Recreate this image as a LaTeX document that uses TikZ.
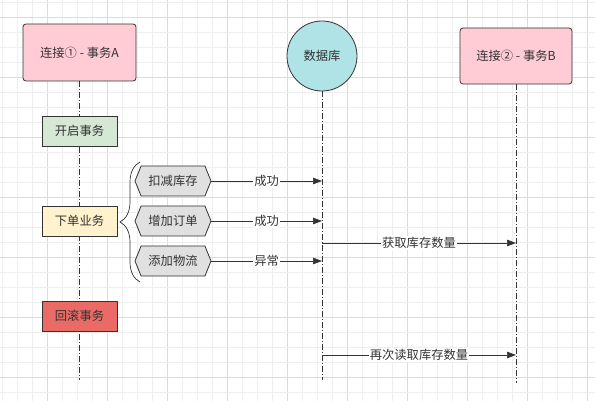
\documentclass[tikz,border=0pt]{standalone}
\usepackage{fontspec}
\setmainfont{Noto Sans CJK SC}
\usetikzlibrary{arrows.meta,shapes.symbols,decorations.pathreplacing,backgrounds}
\definecolor{txtgray}{HTML}{333333}
\definecolor{linegray}{HTML}{333333}
\definecolor{gridminor}{HTML}{EEEEEE}
\definecolor{gridmajor}{HTML}{DCDCDC}
\definecolor{connpink}{HTML}{FFCCD5}
\definecolor{dbcyan}{HTML}{B0E3E6}
\definecolor{okgreen}{HTML}{D5E8D4}
\definecolor{workyellow}{HTML}{FFF2CC}
\definecolor{backred}{HTML}{EA6B66}
\definecolor{taskgray}{HTML}{E0E0E0}
\tikzset{
  every node/.style={font=\fontsize{12.3}{14}\selectfont, text=txtgray},
  connbox/.style={draw=linegray, line width=0.8pt, fill=connpink, rounded corners=3pt, minimum width=113pt, minimum height=57pt, inner sep=0pt},
  dbnode/.style={circle, draw=linegray, line width=0.8pt, fill=dbcyan, minimum size=70pt, inner sep=0pt},
  txbox/.style={draw=linegray, line width=0.8pt, minimum width=75pt, minimum height=30pt, inner sep=0pt},
  taskbox/.style={signal, signal to=east and west, signal pointer angle=136, draw=linegray, line width=0.8pt, fill=taskgray, minimum width=76pt, minimum height=30pt, inner sep=0pt},
  lifeline/.style={draw=linegray, line width=0.7pt, dash pattern=on 6pt off 2pt on 1pt off 2pt},
  msg/.style={draw=linegray, line width=0.7pt, -{Triangle[length=9pt,width=6.5pt]}},
  msglabel/.style={fill=white, inner sep=1pt},
  bracestyle/.style={draw=linegray, line width=0.7pt, decorate, decoration={brace, amplitude=20pt}}
}
\begin{document}
\begin{tikzpicture}[x=1pt,y=-1pt]
\useasboundingbox (0,0) rectangle (595,401);
% participants
\node[connbox] (conA) at (79.5,52.5) {连接① - 事务A};
\node[dbnode] (db) at (322,56) {数据库};
\node[connbox, minimum width=112pt, minimum height=56pt] (conB) at (516,56) {连接② - 事务B};
% steps of A
\node[txbox, fill=okgreen] (begin) at (79.5,131) {开启事务};
\node[txbox, fill=workyellow] (order) at (79.5,221) {下单业务};
\node[txbox, fill=backred] (rollback) at (79.5,316) {回滚事务};
\node[taskbox] (stock) at (173,181) {扣减库存};
\node[taskbox] (addorder) at (173,221) {增加订单};
\node[taskbox] (ship) at (173,261) {添加物流};
\coordinate (endA) at (79.5,380);
\coordinate (endDB) at (322,380);
\coordinate (endB) at (516,383);
\coordinate (readB1) at (322,243);
\coordinate (readB2) at (322,355);
\begin{scope}[on background layer]
\fill[white] (0,0) rectangle (595,401);
\foreach \k in {0,...,39} {
  \pgfmathtruncatemacro\ismajor{mod(\k+1,4)==0}
  \ifnum\ismajor=1 \draw[gridmajor] (1.7+15*\k,0) -- (1.7+15*\k,401);
  \else \draw[gridminor] (1.7+15*\k,0) -- (1.7+15*\k,401); \fi
}
\foreach \k in {0,...,26} {
  \pgfmathtruncatemacro\ismajor{mod(\k+3,4)==0}
  \ifnum\ismajor=1 \draw[gridmajor] (0,2.3+15*\k) -- (595,2.3+15*\k);
  \else \draw[gridminor] (0,2.3+15*\k) -- (595,2.3+15*\k); \fi
}
\draw[lifeline] (conA.south) -- (endA);
\draw[lifeline] (db.south) -- (endDB);
\draw[lifeline] (conB.south) -- (endB);
\end{scope}
% brace
\draw[bracestyle] (140,282) -- (140,162);
% messages
\draw[msg] (stock.east) -- (stock.east -| db) node[msglabel, midway] {成功};
\draw[msg] (addorder.east) -- (addorder.east -| db) node[msglabel, midway] {成功};
\draw[msg] (ship.east) -- (ship.east -| db) node[msglabel, midway] {异常};
\draw[msg] (readB1) -- (readB1 -| conB) node[msglabel, midway] {获取库存数量};
\draw[msg] (readB2) -- (readB2 -| conB) node[msglabel, midway] {再次读取库存数量};
\end{tikzpicture}
\end{document}
